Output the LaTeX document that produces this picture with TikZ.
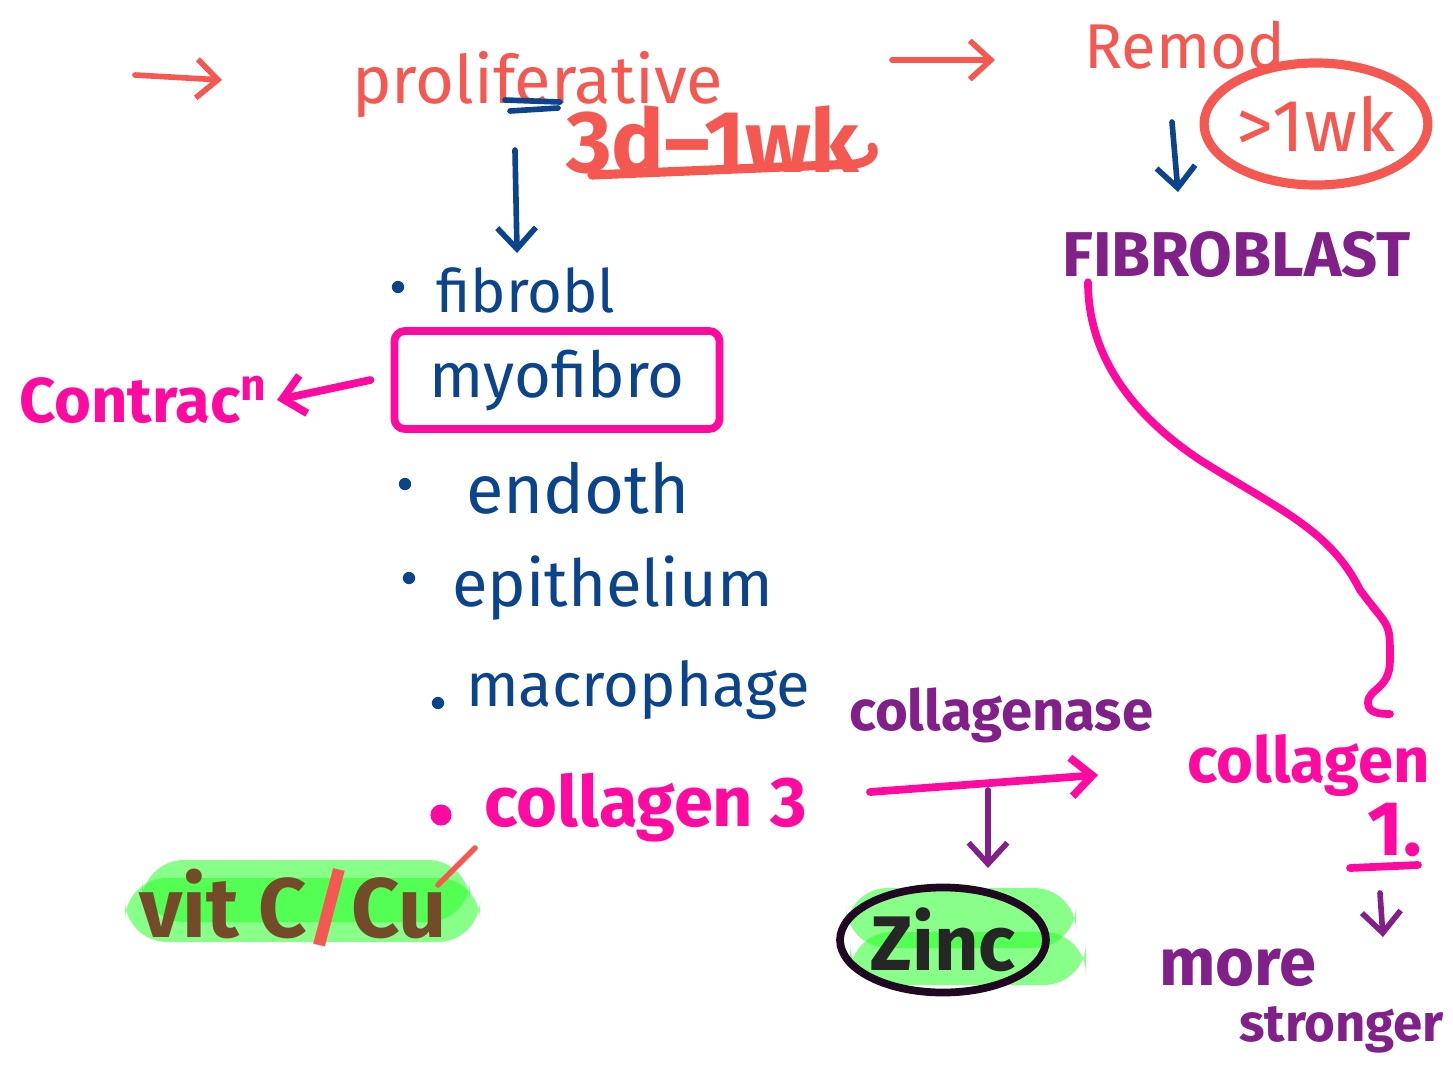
\documentclass[tikz,border=0pt]{standalone}
\usepackage{fontspec}
\setmainfont{Fira Sans}
\usetikzlibrary{arrows.meta, positioning, shapes.geometric, backgrounds}
\definecolor{penred}{RGB}{245,88,80}
\definecolor{penblue}{RGB}{12,68,140}
\definecolor{penpink}{RGB}{255,10,160}
\definecolor{penpurple}{RGB}{128,32,136}
\definecolor{penbrown}{RGB}{115,75,40}
\definecolor{hilite}{RGB}{40,255,40}
\newcommand{\fs}[1]{\fontsize{#1}{#1}\selectfont}
\tikzset{
  hand/.style={inner sep=1pt, anchor=west},
  penarrow/.style={-{Straight Barb[length=6pt,width=11pt]}, line width=1.6pt, line cap=round},
  penline/.style={line width=1.6pt, line cap=round},
  marker/.style={fill=hilite, fill opacity=0.55, draw=none, rounded corners=12pt},
  bulletdot/.style={circle, fill=penblue, inner sep=0pt, minimum size=3.5pt},
}

\begin{document}
\begin{tikzpicture}[x=0.01cm, y=-0.01cm]
  \useasboundingbox (0,0) rectangle (1453,1078);

  % proliferative phase
  \node[hand, text=penred, font=\fs{19}] (prolif) at (348,85) {proliferative};
  \node[hand, text=penred, font=\fs{25}\bfseries] (prolwk) at (562,140) {3d–1wk};
  \coordinate (inA) at (135,75);
  \coordinate (inB) at (222,80);
  \draw[penarrow, penred] (inA) -- (inB);
  \draw[penline, penblue] (505,100) -- (560,102);
  \draw[penline, penblue] (510,111) -- (558,108);
  \draw[line width=2.6pt, line cap=round, penred] (592,175) -- (855,164)
    .. controls (870,162) and (876,154) .. (872,147);

  % remodelling phase
  \coordinate (p2rA) at (892,60);
  \coordinate (p2rB) at (995,60);
  \draw[penarrow, penred] (p2rA) -- (p2rB);
  \node[hand, text=penred, font=\fs{18}] (remod) at (1080,45) {Remod.};
  \node[ellipse, draw=penred, line width=2.6pt, text=penred, font=\fs{21},
    minimum width=1.9cm, minimum height=1.22cm, inner sep=0pt] (remwk) at (1316,124) {>1wk};
  \node[hand, text=penpurple, font=\fs{18}\bfseries] (fib) at (1058,255) {FIBROBLAST};
  \coordinate (remA) at (1172,122);
  \coordinate (remB) at (1178,192);
  \draw[penarrow, penblue] (remA) -- (remB);

  % cells
  \node[hand, text=penblue, font=\fs{17}] (fibrobl) at (432,290) {fibrobl};
  \node[draw=penpink, line width=2.2pt, rounded corners=3pt, text=penblue, font=\fs{18},
    minimum width=3.25cm, minimum height=0.98cm] (myo) at (557,380) {myofibro};
  \node[hand, text=penblue, font=\fs{19.5}] (endoth) at (462,488) {endoth};
  \node[hand, text=penblue, font=\fs{18.5}] (epith) at (448,588) {epithelium};
  \node[hand, text=penblue, font=\fs{17.5}] (macro) at (462,690) {macrophage};
  \foreach \bx/\by in {398/287, 405/484, 409/578, 438/703}
    \node[bulletdot] at (\bx,\by) {};
  \coordinate (prolA) at (515,150);
  \draw[penarrow, penblue] (prolA) -- ([xshift=0.85cm, yshift=0.1cm]fibrobl.north west);

  \node[hand, text=penpink, font=\fs{18}\bfseries] (contr) at (15,400) {Contrac\textsuperscript{n}};
  \draw[penarrow, penpink, line width=2.2pt] ([xshift=-0.2cm]myo.west) -- ([xshift=0.05cm]contr.east);

  % collagen 3
  \node[circle, fill=penpink, inner sep=0pt, minimum size=6pt] (c3dot) at (441,815) {};
  \node[hand, text=penpink, font=\fs{20}\bfseries] (col3) at (480,808) {collagen 3};
  \begin{scope}[on background layer]
    \fill[white] (0,0) rectangle (1453,1078);
    \fill[marker] (142,860) rectangle (470,922);
    \fill[marker] (125,878) rectangle (480,942);
    \fill[marker] (846,888) rectangle (1076,948);
    \fill[marker] (850,932) rectangle (1086,985);
  \end{scope}
  \node[hand, text=penbrown, font=\fs{24}\bfseries] (vitc) at (135,908) {vit C{\color{penred}/}Cu};
  \draw[penline, penred] (475,848) -- (438,885);

  % collagenase and zinc
  \node[hand, text=penpurple, font=\fs{16}\bfseries] (colase) at (845,715) {collagenase};
  \coordinate (cgA) at (870,792);
  \coordinate (cgB) at (1098,775);
  \coordinate (cgM) at (988,790);
  \coordinate (cgZ) at (988,868);
  \draw[penarrow, penpink, line width=2.2pt] (cgA) -- (cgB);
  \node[ellipse, draw=black!75!penpurple, line width=2.2pt, font=\fs{22}\bfseries, text=black!85,
    minimum width=1.9cm, minimum height=1.05cm, inner sep=0pt] (zinc) at (943,940) {Zinc};
  \draw[penarrow, penpurple] (cgM) -- (cgZ);

  % collagen 1
  \node[hand, text=penpink, font=\fs{18}\bfseries] (col1) at (1183,765) {collagen};
  \node[text=penpink, font=\fs{22}\bfseries, inner sep=1pt] (colone) at (1395,830) {1.};
  \draw[line width=2.2pt, line cap=round, penpink] (1350,868) -- (1418,865);
  \draw[line width=2.2pt, line cap=round, penpink] ([xshift=0.3cm]fib.south west)
    .. controls +(0,80) and +(-60,-40) .. (1200,460)
    .. controls +(80,50) and +(-30,-60) .. (1360,590)
    .. controls +(30,40) and +(0,-40) .. (1390,660)
    .. controls +(0,30) and +(0,-15) .. (1368,703)
    .. controls +(0,10) and +(-10,0) .. (1390,714);
  \node[hand, text=penpurple, font=\fs{19}\bfseries] (more) at (1155,968) {more};
  \node[hand, text=penpurple, font=\fs{15}\bfseries] (strong) at (1235,1030) {stronger};
  \coordinate (c1A) at (1380,893);
  \coordinate (c1B) at (1383,937);
  \draw[penarrow, penpurple] (c1A) -- (c1B);
\end{tikzpicture}
\end{document}
